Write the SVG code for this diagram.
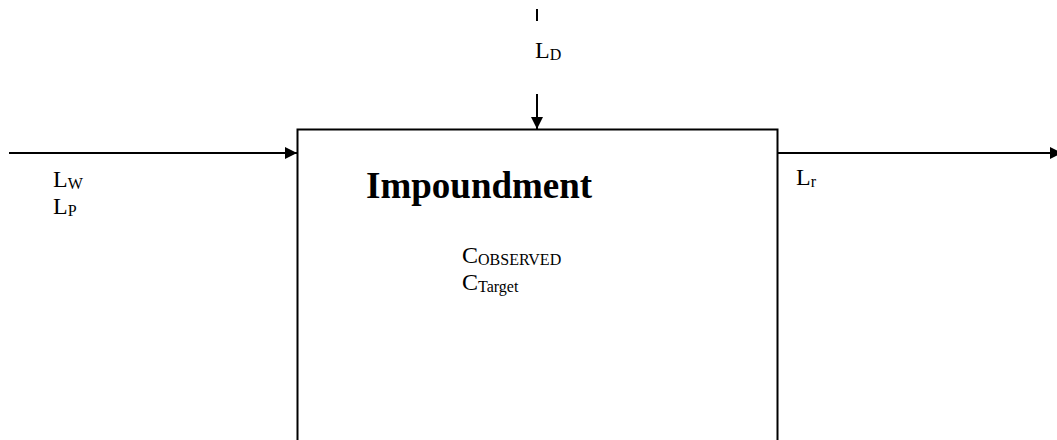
<svg xmlns="http://www.w3.org/2000/svg" width="1057" height="440" viewBox="0 0 1057 440">
<defs>
<style>
.t{font-family:"Liberation Serif","Times New Roman",serif;font-size:24px;fill:#000}
.s{font-size:16px}
.b{font-family:"Liberation Serif","Times New Roman",serif;font-size:37px;font-weight:bold;fill:#000}
.ln{stroke:#000;stroke-width:2;fill:none}
</style>
<marker id="ah" markerWidth="12" markerHeight="12" viewBox="0 0 12 12" refX="12" refY="6" orient="auto" markerUnits="userSpaceOnUse">
<path d="M0,0 L12,6 L0,12 Z" fill="#000"/>
</marker>
</defs>
<g id="connectors">
<line class="ln" x1="537" y1="9" x2="537" y2="21"/>
<line class="ln" x1="537" y1="94" x2="537" y2="129" marker-end="url(#ah)"/>
<line class="ln" x1="9" y1="153" x2="297" y2="153" marker-end="url(#ah)"/>
<line class="ln" x1="778" y1="153" x2="1062" y2="153" marker-end="url(#ah)"/>
</g>
<g id="impoundment">
<rect x="297.5" y="129.5" width="480" height="400" fill="none" stroke="#000" stroke-width="2"/>
<text class="b" x="366" y="198">Impoundment</text>
<text class="t" x="462" y="263">C<tspan class="s" dy="2">OBSERVED</tspan></text>
<text class="t" x="462" y="290">C<tspan class="s" dy="2">Target</tspan></text>
</g>
<g id="label-LD">
<text class="t" x="535" y="58">L<tspan class="s" dy="2">D</tspan></text>
</g>
<g id="label-LW-LP">
<text class="t" x="53" y="187">L<tspan class="s" dy="2">W</tspan></text>
<text class="t" x="53" y="214">L<tspan class="s" dy="2">P</tspan></text>
</g>
<g id="label-Lr">
<text class="t" x="796" y="185">L<tspan class="s" dy="2">r</tspan></text>
</g>
</svg>
